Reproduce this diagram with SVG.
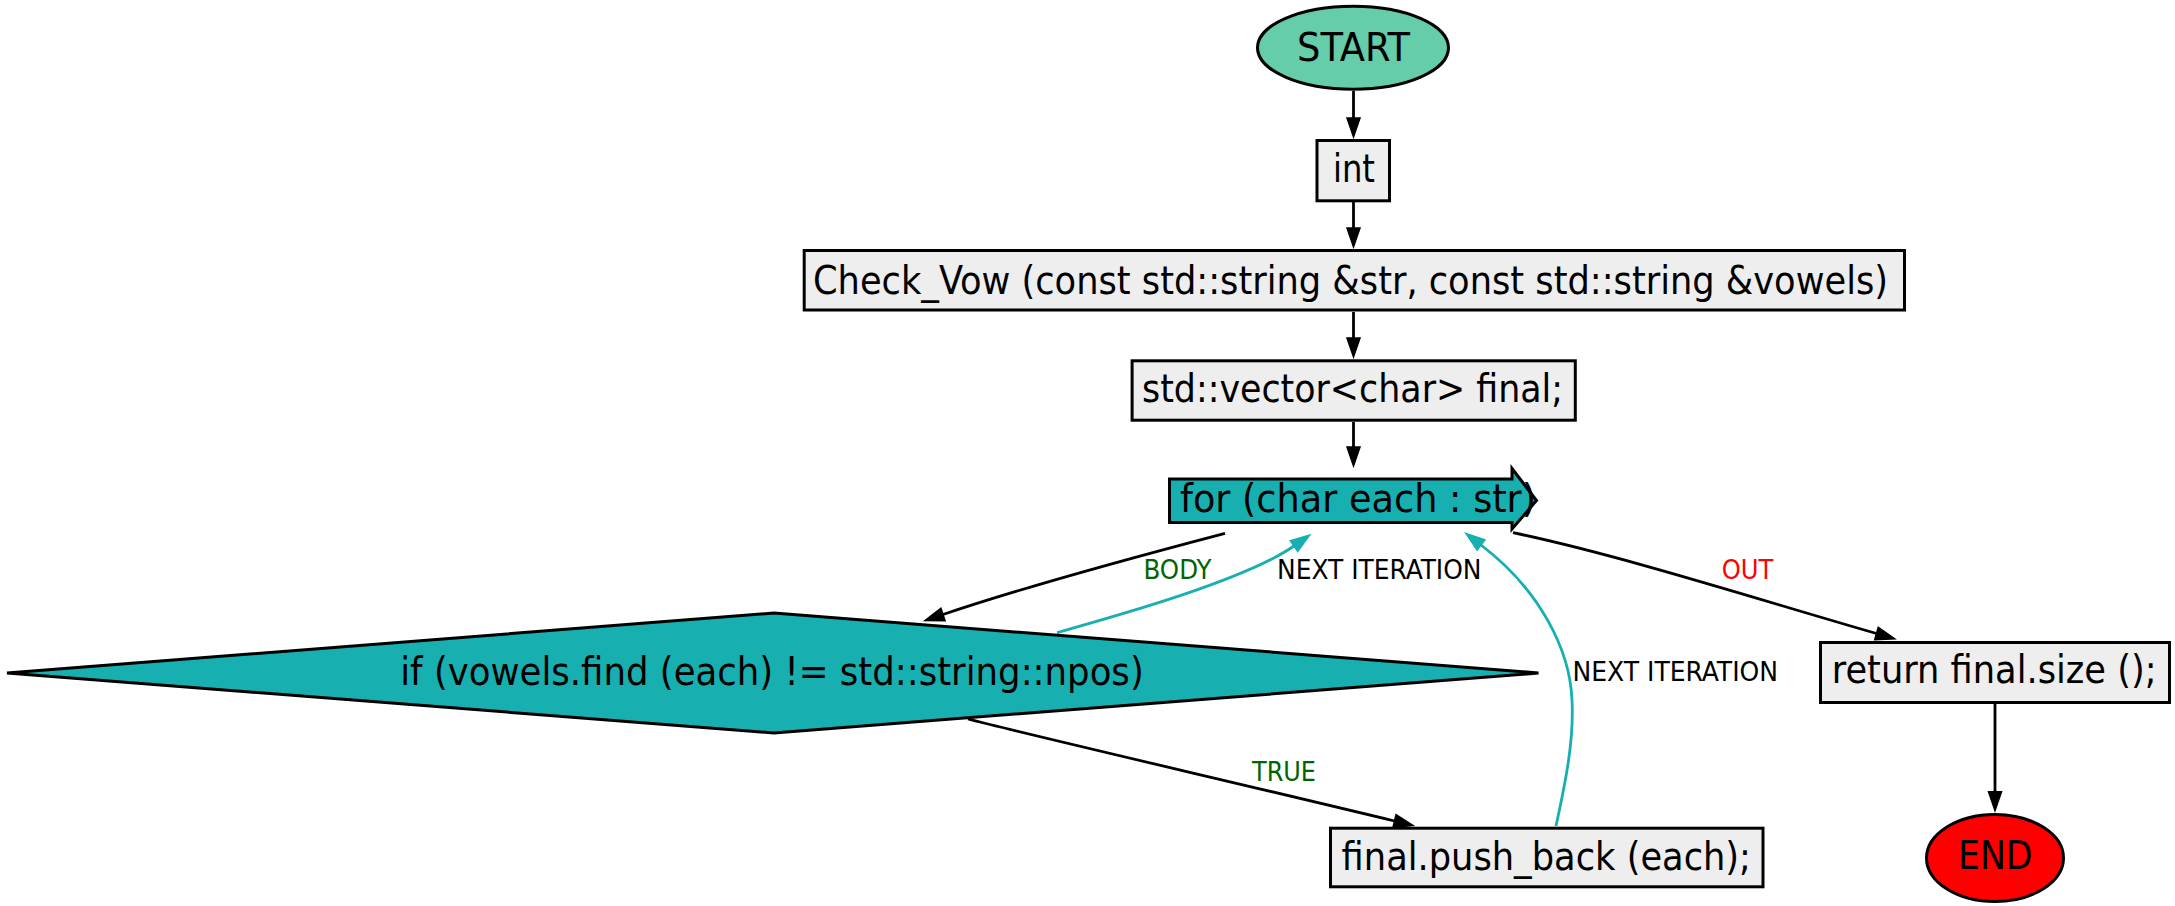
<svg xmlns="http://www.w3.org/2000/svg" width="2175" height="906" viewBox="0 0 2175 906">
<style>
.node text{font-family:"DejaVu Sans Condensed","DejaVu Sans",sans-serif;font-size:38.8px;fill:#000;text-anchor:middle}
.box{fill:#eeeeee;stroke:#000;stroke-width:3}
.teal{fill:#18afb1;stroke:#000;stroke-width:3}
.edge{fill:none;stroke:#000;stroke-width:2.8}
.cyan{fill:none;stroke:#18afb1;stroke-width:2.8}
.lbl{font-family:"DejaVu Sans Condensed","DejaVu Sans",sans-serif;font-size:26.5px;text-anchor:start}
</style>
<defs>
<marker id="ah" markerUnits="userSpaceOnUse" markerWidth="22" markerHeight="16" refX="0" refY="7" orient="auto" overflow="visible">
<path d="M0,0.5 L19,7 L0,13.5 Z" fill="#000" stroke="#000" stroke-width="1.5"/>
</marker>
<marker id="ahc" markerUnits="userSpaceOnUse" markerWidth="22" markerHeight="16" refX="0" refY="7" orient="auto" overflow="visible">
<path d="M0,0.5 L19,7 L0,13.5 Z" fill="#18afb1" stroke="#18afb1" stroke-width="1.5"/>
</marker>
</defs>
<rect width="2175" height="906" fill="#fff"/>
<g id="connectors">
<path class="edge" d="M1353.5,91 L1353.5,118" marker-end="url(#ah)"/>
<path class="edge" d="M1353.5,202 L1353.5,228" marker-end="url(#ah)"/>
<path class="edge" d="M1353.5,312 L1353.5,338" marker-end="url(#ah)"/>
<path class="edge" d="M1353.5,422 L1353.5,447" marker-end="url(#ah)"/>
<path class="edge" d="M1225,533.3 C1150,553 1030,585 943,614.5" marker-end="url(#ah)"/>
<path class="cyan" d="M1057,632.7 C1120,615 1245,580 1294,546" marker-end="url(#ahc)"/>
<path class="edge" d="M968,719 C1050,740 1250,786 1394.5,821" marker-end="url(#ah)"/>
<path class="cyan" d="M1556,826 C1566,780 1574,740 1572,700 C1570,650 1540,590 1481,545" marker-end="url(#ahc)"/>
<path class="edge" d="M1513,532.7 C1620,555 1760,600 1876.5,633.5" marker-end="url(#ah)"/>
<path class="edge" d="M1995,704 L1995,791.7" marker-end="url(#ah)"/>
<text class="lbl" x="1143.5" y="579.3" fill="#006400" textLength="68" lengthAdjust="spacingAndGlyphs">BODY</text>
<text class="lbl" x="1277" y="579.3" fill="#000" textLength="204.5" lengthAdjust="spacingAndGlyphs">NEXT ITERATION</text>
<text class="lbl" x="1572.5" y="680.5" fill="#000" textLength="205.5" lengthAdjust="spacingAndGlyphs">NEXT ITERATION</text>
<text class="lbl" x="1721.7" y="579" fill="#ff0000" textLength="51.6" lengthAdjust="spacingAndGlyphs">OUT</text>
<text class="lbl" x="1252" y="780.7" fill="#006400" textLength="64" lengthAdjust="spacingAndGlyphs">TRUE</text>
</g>
<g id="start" class="node">
<ellipse cx="1353" cy="47.7" rx="95.5" ry="41.5" fill="#66cdaa" stroke="#000" stroke-width="3"/>
<text x="1353.5" y="61" textLength="113" lengthAdjust="spacingAndGlyphs">START</text>
</g>
<g id="int" class="node">
<rect class="box" x="1317" y="140.5" width="72.5" height="60.3"/>
<text x="1354" y="182.3" textLength="42" lengthAdjust="spacingAndGlyphs">int</text>
</g>
<g id="check_vow" class="node">
<rect class="box" x="804.2" y="250.5" width="1100.3" height="59.5"/>
<text x="1350.5" y="293.5" textLength="1075" lengthAdjust="spacingAndGlyphs">Check_Vow (const std::string &amp;str, const std::string &amp;vowels)</text>
</g>
<g id="vector" class="node">
<rect class="box" x="1132.1" y="360.8" width="443.2" height="59.4"/>
<text x="1352.5" y="401.7" textLength="421" lengthAdjust="spacingAndGlyphs">std::vector&lt;char&gt; final;</text>
</g>
<g id="for" class="node">
<polygon class="teal" points="1169.5,479 1512,479 1512,468.5 1536.5,500.5 1512,529 1512,522.5 1169.5,522.5"/>
<text x="1358" y="512.3" textLength="356" lengthAdjust="spacingAndGlyphs">for (char each : str)</text>
</g>
<g id="if" class="node">
<polygon class="teal" points="7,673 774,613 1538.5,673 774,733"/>
<text x="772" y="685" textLength="743.5" lengthAdjust="spacingAndGlyphs">if (vowels.find (each) != std::string::npos)</text>
</g>
<g id="push_back" class="node">
<rect class="box" x="1330.5" y="828.2" width="432.5" height="58.6"/>
<text x="1546.3" y="870" textLength="409.4" lengthAdjust="spacingAndGlyphs">final.push_back (each);</text>
</g>
<g id="return" class="node">
<rect class="box" x="1820.5" y="642.5" width="349" height="60"/>
<text x="1994.2" y="683.3" textLength="324.8" lengthAdjust="spacingAndGlyphs">return final.size ();</text>
</g>
<g id="end" class="node">
<ellipse cx="1995" cy="858" rx="68.5" ry="43.5" fill="#ff0000" stroke="#000" stroke-width="3"/>
<text x="1995.3" y="869.3" textLength="74.7" lengthAdjust="spacingAndGlyphs">END</text>
</g>
</svg>
